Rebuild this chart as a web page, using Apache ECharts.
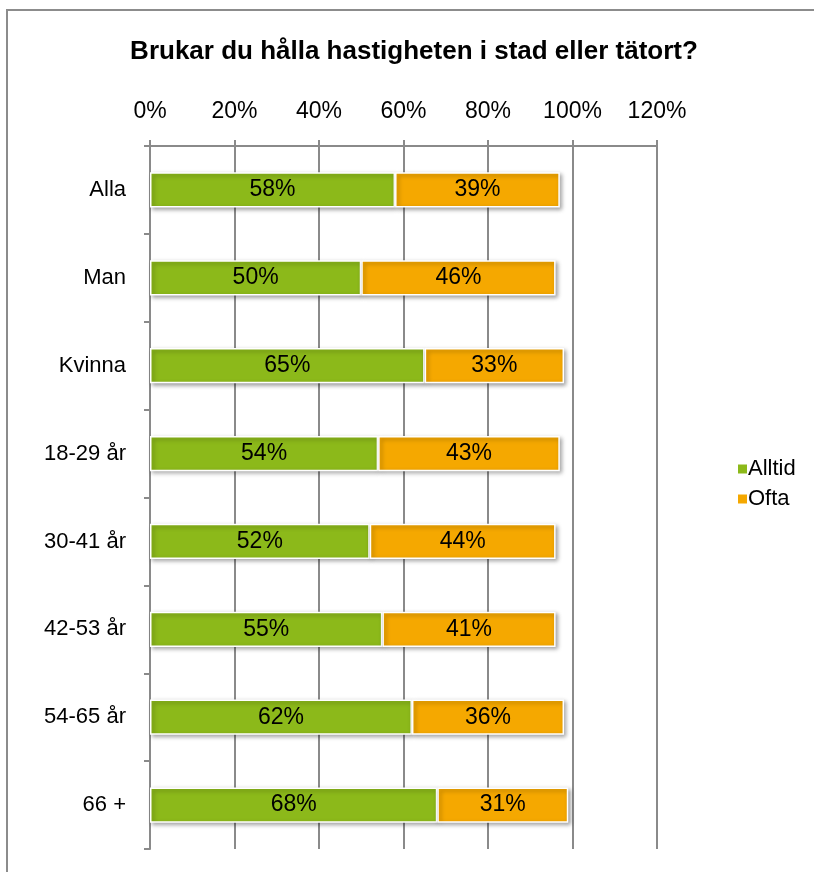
<!DOCTYPE html>
<html>
<head>
<meta charset="utf-8">
<script src="https://cdn.jsdelivr.net/npm/echarts@6/dist/echarts.min.js"></script>
<style>
html,body{margin:0;padding:0;background:#fff;}
#chart{width:814px;height:872px;}
</style>
</head>
<body>
<div id="chart"></div>
<script>
const title = "Brukar du hålla hastigheten i stad eller tätort?";
const categories = ["Alla", "Man", "Kvinna", "18-29 år", "30-41 år", "42-53 år", "54-65 år", "66 +"];
const seriesNames = ["Alltid", "Ofta"];
const alltid = [0.58, 0.50, 0.65, 0.54, 0.52, 0.55, 0.62, 0.68];
const ofta = [0.39, 0.46, 0.33, 0.43, 0.44, 0.41, 0.36, 0.31];
const xTicks = [0, 0.2, 0.4, 0.6, 0.8, 1.0, 1.2];

const FONT = "'Liberation Sans', Arial, sans-serif";
const GRID_COLOR = '#8a8a8a';
const colors = ['#8CB91A', '#F5A800'];

const chart = echarts.init(document.getElementById('chart'), null, {renderer: 'canvas'});

function barSeries(name, data, color) {
  return {
    name: name,
    type: 'bar',
    stack: 'total',
    data: data,
    barCategoryGap: '60%',
    itemStyle: {
      color: color,
      borderColor: '#ffffff',
      borderWidth: 1.5,
      shadowColor: 'rgba(0,0,0,0.35)',
      shadowBlur: 4,
      shadowOffsetX: 2,
      shadowOffsetY: 2
    },
    label: {
      show: true,
      position: 'inside',
      color: '#000',
      fontFamily: FONT,
      fontSize: 23,
      formatter: p => Math.round(p.value * 100) + '%'
    },
    emphasis: {disabled: true}
  };
}

chart.setOption({
  animation: false,
  backgroundColor: '#fff',
  title: {
    text: title,
    left: 409,
    textAlign: 'center',
    top: 34,
    textStyle: {fontFamily: FONT, fontSize: 26, fontWeight: 'bold', color: '#000'}
  },
  graphic: [{
    type: 'rect',
    shape: {x: 7, y: 10, width: 1000, height: 1000},
    style: {fill: 'none', stroke: '#8c8c8c', lineWidth: 2},
    silent: true
  }],
  legend: {
    data: seriesNames,
    orient: 'vertical',
    left: 731,
    top: 453,
    itemWidth: 11,
    itemHeight: 11,
    itemGap: 8,
    icon: 'rect',
    textStyle: {fontFamily: FONT, fontSize: 22, color: '#000', padding: [0,0,0,-5]}
  },
  grid: {left: 150, right: 814 - 657, top: 146, bottom: 872 - 849, containLabel: false},
  xAxis: {
    type: 'value',
    position: 'top',
    min: 0,
    max: 1.2,
    interval: 0.2,
    axisLine: {show: true, lineStyle: {color: GRID_COLOR, width: 2}},
    axisTick: {show: true, length: 6, lineStyle: {color: GRID_COLOR, width: 2}},
    axisLabel: {
      fontFamily: FONT, fontSize: 23, color: '#000', margin: 23,
      formatter: v => Math.round(v * 100) + '%'
    },
    splitLine: {show: true, lineStyle: {color: GRID_COLOR, width: 2}}
  },
  yAxis: {
    type: 'category',
    data: categories,
    inverse: true,
    axisLine: {show: true, lineStyle: {color: GRID_COLOR, width: 2}},
    axisTick: {show: true, length: 6, lineStyle: {color: GRID_COLOR, width: 2}},
    axisLabel: {fontFamily: FONT, fontSize: 22, color: '#000', margin: 24},
    splitLine: {show: false}
  },
  series: [
    barSeries(seriesNames[0], alltid, colors[0]),
    barSeries(seriesNames[1], ofta, colors[1])
  ]
});
</script>
</body>
</html>
